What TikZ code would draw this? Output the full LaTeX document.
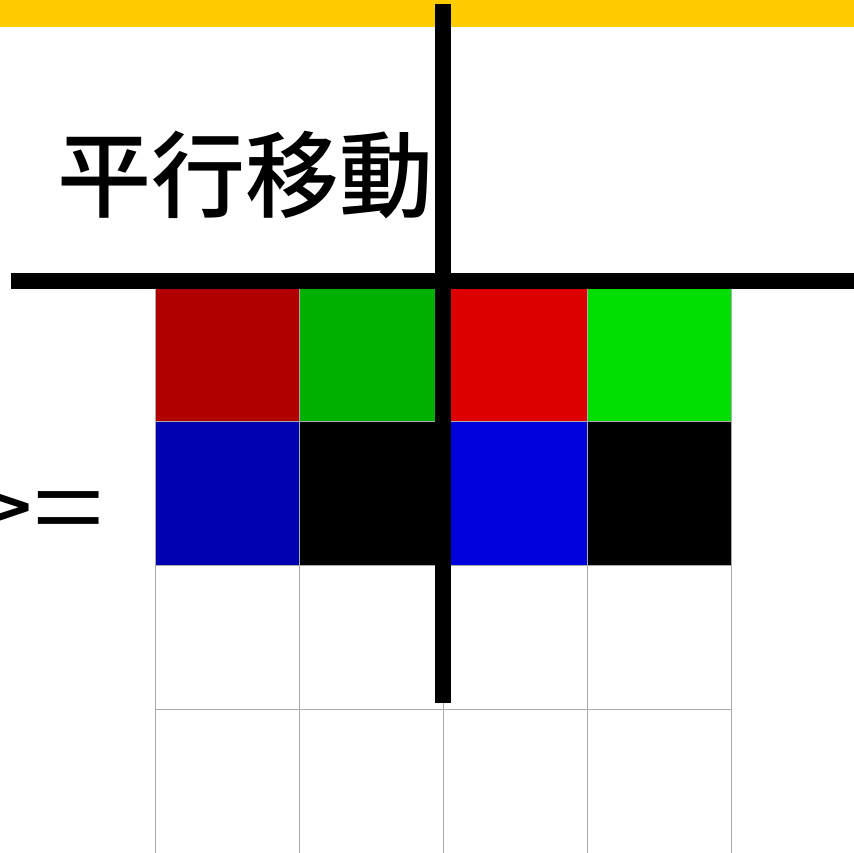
\documentclass[tikz,border=0pt]{standalone}
\usepackage{fontspec}
\newfontfamily\cjkl{Noto Sans CJK JP}[UprightFont={* DemiLight}]
\newfontfamily\cjkm{Noto Sans CJK JP}[UprightFont={* Medium}]
\definecolor{topbar}{HTML}{FFCC00}
\definecolor{gridgray}{HTML}{AAAAAA}
\definecolor{cA}{HTML}{B00000}
\definecolor{cB}{HTML}{00B000}
\definecolor{cC}{HTML}{DD0000}
\definecolor{cD}{HTML}{00DD00}
\definecolor{cE}{HTML}{0000B0}
\definecolor{cF}{HTML}{0000DD}
\tikzset{
  cell/.style={draw=gridgray, line width=1pt, minimum width=144pt, minimum height=144pt, inner sep=0pt, anchor=north west},
  bar/.style={fill=black, draw=none, inner sep=0pt, anchor=north west},
}
\begin{document}
\begin{tikzpicture}[x=1pt,y=-1pt]
\useasboundingbox (0,0) rectangle (854,852);
\fill[white] (0,0) rectangle (854,852);
\node[fill=topbar, inner sep=0pt, minimum width=854pt, minimum height=27pt, anchor=north west] (top) at (0,0) {};
% grid cells
\node[cell, fill=cA] (c11) at (155,277) {};
\node[cell, fill=cB] (c12) at (299,277) {};
\node[cell, fill=cC] (c13) at (443,277) {};
\node[cell, fill=cD] (c14) at (587,277) {};
\node[cell, fill=cE] (c21) at (155,421) {};
\node[cell, fill=black] (c22) at (299,421) {};
\node[cell, fill=cF] (c23) at (443,421) {};
\node[cell, fill=black] (c24) at (587,421) {};
\node[cell] (c31) at (155,565) {};
\node[cell] (c32) at (299,565) {};
\node[cell] (c33) at (443,565) {};
\node[cell] (c34) at (587,565) {};
\node[cell] (c41) at (155,709) {};
\node[cell] (c42) at (299,709) {};
\node[cell] (c43) at (443,709) {};
\node[cell] (c44) at (587,709) {};
% texts
\node[inner sep=0pt, anchor=west, font={\cjkm\fontsize{94}{94}\selectfont}] (title) at (57,175) {平行移動};
\node[inner sep=0pt, anchor=east, font={\cjkl\fontsize{128}{128}\selectfont}] (lbl) at (104,516) {\scalebox{1}[0.86]{>=}};
% bars
\node[bar, minimum width=843pt, minimum height=16pt] (hbar) at (11,273) {};
\node[bar, minimum width=16pt, minimum height=699pt] (vbar) at (435,4) {};
\end{tikzpicture}
\end{document}
